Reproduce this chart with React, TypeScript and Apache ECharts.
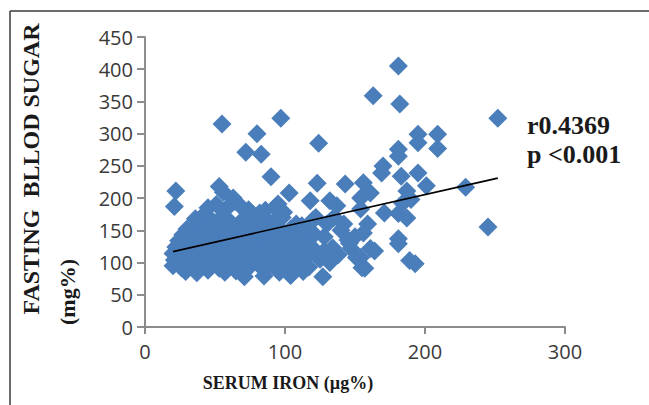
import React, { useEffect, useRef } from "react";
import * as echarts from "echarts";

// Serum iron (µg%) vs fasting blood sugar (mg%)
const points: [number, number][] = [
  // outer / isolated points
  [22, 211], [21, 187], [53, 218], [56, 209], [55, 315], [72, 271], [80, 300], [83, 268],
  [90, 233], [97, 324], [103, 208], [63, 200], [95, 191], [82, 177],
  [124, 285], [123, 223], [143, 222], [156, 224], [118, 196], [132, 196], [137, 188],
  [154, 183], [134, 123], [151, 108], [155, 92], [127, 78],
  [163, 359], [181, 405], [182, 346], [195, 299], [195, 286], [209, 299], [209, 277],
  [181, 276], [181, 265], [170, 250], [169, 239], [183, 234], [195, 239], [201, 219],
  [187, 211], [161, 208], [154, 200], [171, 177], [181, 176], [187, 169], [159, 160],
  [156, 146], [181, 137], [181, 129], [161, 122], [189, 103], [193, 98], [157, 91],
  [154, 108], [229, 217], [245, 155], [252, 324], [190, 198], [184, 192],
  [164, 118], [150, 140], [146, 130], [140, 150], [147, 122],
  [130, 160], [128, 140], [145, 135], [138, 112], [125, 105], [132, 100], [122, 170],
  [135, 170], [142, 160], [128, 118],
  // dense cluster
  [45, 185], [51, 190], [58, 183], [64, 195], [68, 188], [74, 182], [86, 181], [93, 186], [99, 178],
  [36, 168], [41, 172], [48, 165], [55, 171], [61, 163], [70, 167], [77, 162], [85, 169], [92, 164],
  [98, 170], [108, 160], [120, 166],
  [30, 152], [38, 158], [44, 154], [52, 157], [59, 150], [66, 156], [73, 153], [80, 159], [88, 151],
  [95, 155], [104, 152], [112, 157], [117, 149],
  [27, 143], [33, 147], [41, 141], [48, 146], [55, 144], [63, 148], [69, 140], [77, 145], [84, 142],
  [90, 147], [99, 141], [106, 146], [113, 140], [121, 144],
  [24, 134], [31, 137], [37, 131], [45, 136], [52, 133], [58, 138], [66, 132], [72, 136], [79, 130],
  [87, 134], [94, 138], [101, 131], [109, 135], [116, 132],
  [22, 124], [28, 127], [35, 121], [43, 126], [50, 123], [57, 128], [63, 122], [71, 125], [78, 127],
  [85, 121], [92, 126], [100, 122], [107, 128], [115, 124], [121, 120],
  [20, 114], [26, 117], [34, 112], [40, 116], [47, 113], [55, 118], [62, 111], [68, 115], [76, 119],
  [83, 112], [90, 116], [97, 113], [104, 118], [110, 111], [118, 115],
  [21, 104], [28, 107], [35, 101], [42, 106], [49, 103], [56, 108], [62, 102], [70, 105], [77, 101],
  [84, 107], [91, 103], [98, 106], [105, 101], [113, 106],
  [20, 95], [26, 92], [33, 97], [40, 93], [46, 96], [53, 91], [60, 98], [67, 94], [74, 92],
  [81, 97], [88, 93], [95, 96], [102, 92], [109, 97], [117, 93],
  [29, 86], [37, 84], [45, 88], [57, 85], [65, 87], [71, 78], [85, 79], [96, 85], [104, 80], [113, 86],
];

const trendLine: [number, number][] = [
  [20, 117],
  [252, 231],
];

const xTicks = { min: 0, max: 300, interval: 100 };
const yTicks = { min: 0, max: 450, interval: 50 };

const xTitle = "SERUM IRON (µg%)";
const yTitle = "FASTING  BLLOD SUGAR";
const yUnit = "(mg%)";
const statLines = ["r0.4369", "p <0.001"];

export default function App() {
  const ref = useRef<HTMLDivElement>(null);

  useEffect(() => {
    if (!ref.current) return;
    const chart = echarts.init(ref.current, undefined, { renderer: "svg" });
    const axisColor = "#8c8c8c";
    const labelStyle = {
      fontFamily: "Open Sans",
      fontSize: 20,
      color: "#3a3a3a",
    };
    const serif = "'Liberation Serif', 'Times New Roman', serif";
    chart.setOption({
      animation: false,
      backgroundColor: "#ffffff",
      grid: { left: 145, right: 84, top: 37, bottom: 78, containLabel: false },
      xAxis: {
        type: "value",
        min: xTicks.min,
        max: xTicks.max,
        interval: xTicks.interval,
        axisLine: { show: true, lineStyle: { color: axisColor, width: 2 } },
        axisTick: { show: true, length: 7, lineStyle: { color: axisColor, width: 2 } },
        splitLine: { show: false },
        axisLabel: { ...labelStyle, margin: 14 },
      },
      yAxis: {
        type: "value",
        min: yTicks.min,
        max: yTicks.max,
        interval: yTicks.interval,
        axisLine: { show: true, lineStyle: { color: axisColor, width: 2 } },
        axisTick: { show: true, length: 8, lineStyle: { color: axisColor, width: 2 } },
        splitLine: { show: false },
        axisLabel: { ...labelStyle, margin: 12 },
      },
      series: [
        {
          type: "scatter",
          data: points,
          symbol: "diamond",
          symbolSize: 19,
          itemStyle: { color: "#4A7EBB", opacity: 1 },
          z: 2,
        },
        {
          type: "line",
          data: trendLine,
          showSymbol: false,
          symbol: "none",
          lineStyle: { color: "#000000", width: 1.6 },
          z: 3,
        },
      ],
      graphic: [
        {
          type: "line",
          shape: { x1: 10, y1: 11, x2: 649, y2: 11 },
          style: { stroke: "#3a3a3a", lineWidth: 1.5 },
        },
        {
          type: "line",
          shape: { x1: 10, y1: 11, x2: 10, y2: 405 },
          style: { stroke: "#3a3a3a", lineWidth: 1.5 },
        },
        {
          type: "text",
          x: 288,
          y: 383,
          style: {
            text: xTitle,
            fontFamily: serif,
            fontWeight: "bold",
            fontSize: 18,
            fill: "#1a1a1a",
            align: "center",
            verticalAlign: "middle",
          },
        },
        {
          type: "text",
          x: 31,
          y: 169,
          rotation: Math.PI / 2,
          style: {
            text: yTitle,
            fontFamily: serif,
            fontWeight: "bold",
            fontSize: 24,
            fill: "#1a1a1a",
            align: "center",
            verticalAlign: "middle",
          },
        },
        {
          type: "text",
          x: 67,
          y: 292,
          rotation: Math.PI / 2,
          style: {
            text: yUnit,
            fontFamily: serif,
            fontWeight: "bold",
            fontSize: 22,
            fill: "#1a1a1a",
            align: "center",
            verticalAlign: "middle",
          },
        },
        {
          type: "text",
          x: 527,
          y: 125,
          style: {
            text: statLines[0],
            fontFamily: serif,
            fontWeight: "bold",
            fontSize: 26,
            fill: "#1a1a1a",
            align: "left",
            verticalAlign: "middle",
          },
        },
        {
          type: "text",
          x: 527,
          y: 154,
          style: {
            text: statLines[1],
            fontFamily: serif,
            fontWeight: "bold",
            fontSize: 26,
            fill: "#1a1a1a",
            align: "left",
            verticalAlign: "middle",
          },
        },
      ],
    });
    return () => chart.dispose();
  }, []);

  return (
    <div
      ref={ref}
      style={{ position: "fixed", left: 0, top: 0, width: 649, height: 405, background: "#fff" }}
    />
  );
}
